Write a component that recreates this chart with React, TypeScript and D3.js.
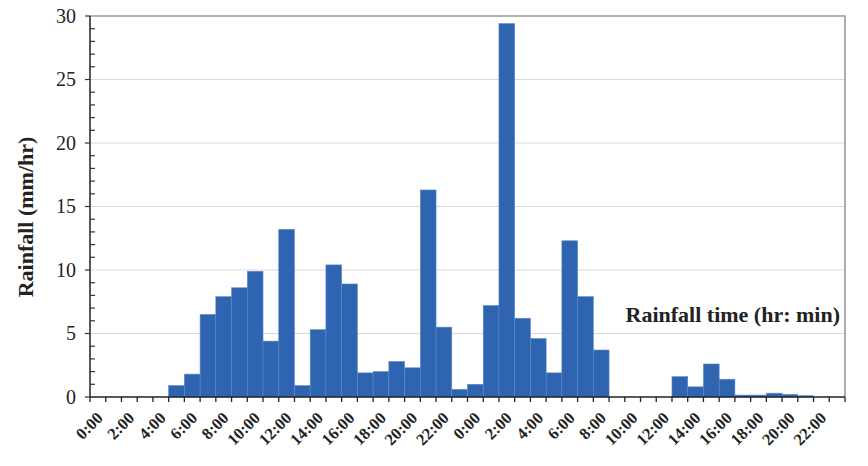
import React, { useEffect, useRef } from 'react'
import * as d3 from 'd3'

// hourly rainfall, two days (48 hours)
const hours = d3.range(48)
const rainfall = [
  0, 0, 0, 0, 0, 0.9, 1.8, 6.5, 7.9, 8.6, 9.9, 4.4,
  13.2, 0.9, 5.3, 10.4, 8.9, 1.9, 2.0, 2.8, 2.3, 16.3, 5.5, 0.6,
  1.0, 7.2, 29.4, 6.2, 4.6, 1.9, 12.3, 7.9, 3.7, 0, 0, 0,
  0, 1.6, 0.8, 2.6, 1.4, 0.15, 0.15, 0.3, 0.2, 0.1, 0, 0
]
const tickLabels = hours.map(h => `${h % 24}:00`)
const yTicks = [0, 5, 10, 15, 20, 25, 30]

const W = 868
const H = 466
const M = { left: 90, right: 23, top: 16, bottom: 69 }
const FONT = '"Liberation Serif", "Times New Roman", serif'

const App = () => {
  const ref = useRef<SVGSVGElement>(null)

  useEffect(() => {
    const svg = d3.select(ref.current)
    svg.selectAll('*').remove()

    const x = d3.scaleBand<number>()
      .domain(hours)
      .range([M.left, W - M.right])
      .padding(0)
    const y = d3.scaleLinear().domain([0, 30]).range([H - M.bottom, M.top])

    const bw = x.bandwidth()
    const x0 = M.left
    const x1 = W - M.right
    const y0 = y(0)

    // gridlines
    svg.append('g')
      .selectAll('line')
      .data(yTicks.filter(d => d > 0 && d < 30))
      .enter()
      .append('line')
      .attr('x1', x0).attr('x2', x1)
      .attr('y1', d => y(d)).attr('y2', d => y(d))
      .attr('stroke', '#d9d9d9').attr('stroke-width', 1.2)

    // frame top + right
    svg.append('path')
      .attr('d', `M${x0},${y(30)}H${x1}V${y0}`)
      .attr('fill', 'none')
      .attr('stroke', '#9a9a9a')
      .attr('stroke-width', 1.6)

    // bars
    svg.append('g')
      .selectAll('rect')
      .data(rainfall)
      .enter()
      .append('rect')
      .attr('x', (d, i) => x(i)!)
      .attr('y', d => y(d))
      .attr('width', bw)
      .attr('height', d => y0 - y(d))
      .attr('fill', '#2f64b1')
      .attr('stroke', '#5d88c9')
      .attr('stroke-width', 0.6)

    // y axis
    const ya = svg.append('g')
    ya.append('line')
      .attr('x1', x0).attr('x2', x0)
      .attr('y1', y(30)).attr('y2', y0)
      .attr('stroke', '#222').attr('stroke-width', 1.5)
    ya.selectAll('line.minor')
      .data(d3.range(0, 31).filter(d => d % 5 !== 0))
      .enter()
      .append('line')
      .attr('class', 'minor')
      .attr('x1', x0).attr('x2', x0 + 5)
      .attr('y1', d => y(d)).attr('y2', d => y(d))
      .attr('stroke', '#333').attr('stroke-width', 1.2)
    ya.selectAll('line.major')
      .data(yTicks)
      .enter()
      .append('line')
      .attr('class', 'major')
      .attr('x1', x0 - 5).attr('x2', x0)
      .attr('y1', d => y(d)).attr('y2', d => y(d))
      .attr('stroke', '#333').attr('stroke-width', 1.2)
    ya.selectAll('text')
      .data(yTicks)
      .enter()
      .append('text')
      .attr('x', x0 - 14)
      .attr('y', d => y(d))
      .attr('dy', '0.34em')
      .attr('text-anchor', 'end')
      .attr('font-family', FONT)
      .attr('font-size', 20)
      .attr('fill', '#222')
      .text(d => d)

    // x axis
    const xa = svg.append('g')
    xa.append('line')
      .attr('x1', x0).attr('x2', x1)
      .attr('y1', y0).attr('y2', y0)
      .attr('stroke', '#222').attr('stroke-width', 1.5)
    xa.selectAll('line.tick')
      .data(d3.range(49))
      .enter()
      .append('line')
      .attr('class', 'tick')
      .attr('x1', d => x0 + d * bw).attr('x2', d => x0 + d * bw)
      .attr('y1', y0).attr('y2', y0 + 5)
      .attr('stroke', '#222').attr('stroke-width', 1.3)
    xa.selectAll('text')
      .data(hours.filter(h => h % 2 === 0))
      .enter()
      .append('text')
      .attr('transform', h => `translate(${x(h)! + bw / 2 + 6},${y0 + 22}) rotate(-45)`)
      .attr('text-anchor', 'end')
      .attr('font-family', FONT)
      .attr('font-weight', 'bold')
      .attr('font-size', 16.5)
      .attr('fill', '#222')
      .text(h => tickLabels[h])

    // titles
    svg.append('text')
      .attr('x', 840).attr('y', 322)
      .attr('text-anchor', 'end')
      .attr('font-family', FONT)
      .attr('font-weight', 'bold')
      .attr('font-size', 22)
      .attr('fill', '#222')
      .text('Rainfall time (hr: min)')

    svg.append('text')
      .attr('transform', 'translate(33,217) rotate(-90)')
      .attr('text-anchor', 'middle')
      .attr('font-family', FONT)
      .attr('font-weight', 'bold')
      .attr('font-size', 22)
      .attr('fill', '#222')
      .text('Rainfall (mm/hr)')
  }, [])

  return (
    <svg
      ref={ref}
      width={W}
      height={H}
      style={{ position: 'absolute', left: 0, top: 0, background: '#fff' }}
    />
  )
}

export default App
